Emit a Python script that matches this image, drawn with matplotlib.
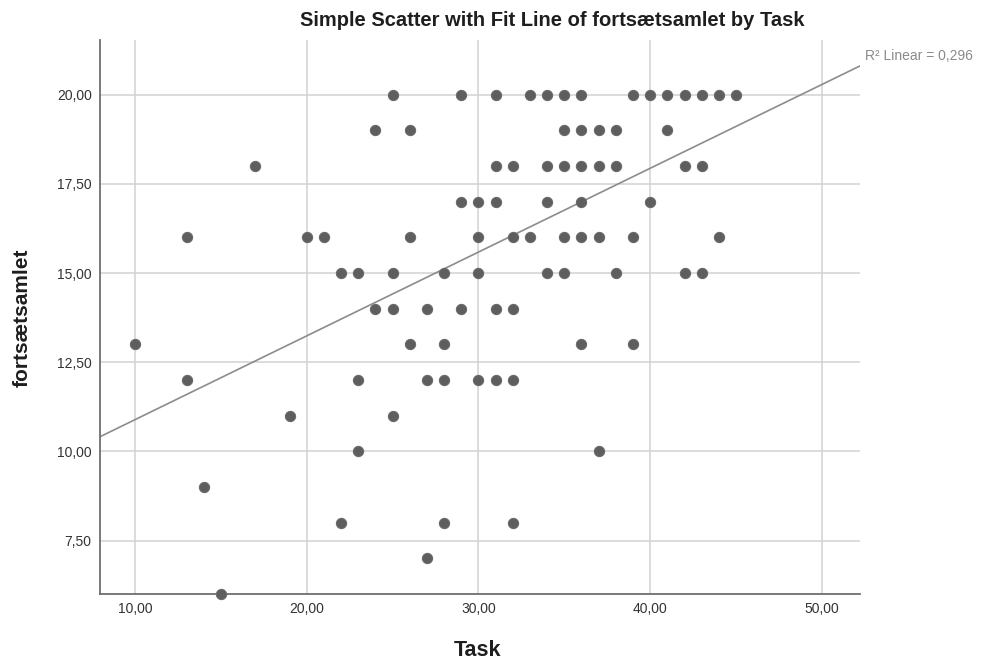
"""SPSS-style simple scatter with linear fit line: fortsætsamlet by Task."""
import matplotlib
matplotlib.use("Agg")
import matplotlib.pyplot as plt
import numpy as np

plt.rcParams["font.family"] = ["Liberation Sans", "DejaVu Sans"]

# points, grouped by fortsætsamlet value (overlaps show once)
ROWS = {
    20: [25, 29, 31, 33, 34, 35, 36, 39, 40, 41, 42, 43, 44, 45],
    19: [24, 26, 35, 36, 37, 38, 41],
    18: [17, 31, 32, 34, 35, 36, 37, 38, 42, 43],
    17: [29, 30, 31, 34, 36, 40],
    16: [13, 20, 21, 26, 30, 32, 33, 35, 36, 37, 39, 44],
    15: [22, 23, 25, 28, 30, 34, 35, 38, 42, 43],
    14: [24, 25, 27, 29, 31, 32],
    13: [10, 26, 28, 36, 39],
    12: [13, 23, 27, 28, 30, 31, 32],
    11: [19, 25],
    10: [23, 37],
    9: [14],
    8: [22, 28, 32],
    7: [27],
    6: [15],
}
task = np.array([x for y, xs in ROWS.items() for x in xs], dtype=float)
fort = np.array([y for y, xs in ROWS.items() for x in xs], dtype=float)

# fit line as drawn (intercept, slope), R² from the label
FIT_INTERCEPT = 8.54
FIT_SLOPE = 0.235
R2_LABEL = "R² Linear = 0,296"

X_TICKS = [10, 20, 30, 40, 50]
Y_TICKS = [7.5, 10, 12.5, 15, 17.5, 20]


def fmt(v):
    return f"{v:.2f}".replace(".", ",")


fig = plt.figure(figsize=(9.82, 6.62), dpi=100)
ax = fig.add_axes([0.1018, 0.1027, 0.774, 0.837])
ax.set_xlim(7.96, 52.22)
ax.set_ylim(6.0, 21.54)

ax.set_xticks(X_TICKS)
ax.set_xticklabels([fmt(v) for v in X_TICKS])
ax.set_yticks(Y_TICKS)
ax.set_yticklabels([fmt(v) for v in Y_TICKS])
ax.tick_params(length=0, labelsize=10, colors="#333333", pad=6)
ax.grid(True, color="#d2d2d2", linewidth=1.1)
ax.set_axisbelow(True)
for s in ("top", "right"):
    ax.spines[s].set_visible(False)
for s in ("left", "bottom"):
    ax.spines[s].set_color("#6e6e6e")
    ax.spines[s].set_linewidth(1.3)

xs = np.array(ax.get_xlim())
ax.plot(xs, FIT_INTERCEPT + FIT_SLOPE * xs, color="#8c8c8c", linewidth=1.2, zorder=2)
ax.scatter(task, fort, s=54, color="#5e5e5e", edgecolor="#6a6a6a", linewidth=0.8,
           zorder=3, clip_on=False)

fig.text(865 / 982, 1 - 56 / 662, R2_LABEL, fontsize=10, color="#8a8a8a", va="center")
fig.text(552 / 982, 1 - 21 / 662, "Simple Scatter with Fit Line of fortsætsamlet by Task",
         fontsize=14.5, fontweight="bold", ha="center", va="center", color="#1e1e1e")
fig.text(22 / 982, 1 - 318 / 662, "fortsætsamlet", rotation=90, fontsize=15,
         fontweight="bold", ha="center", va="center", color="#1e1e1e")
fig.text(478 / 982, 1 - 650 / 662, "Task", fontsize=15.5, fontweight="bold",
         ha="center", va="center", color="#1e1e1e")

fig.savefig("out.png", dpi=100)
